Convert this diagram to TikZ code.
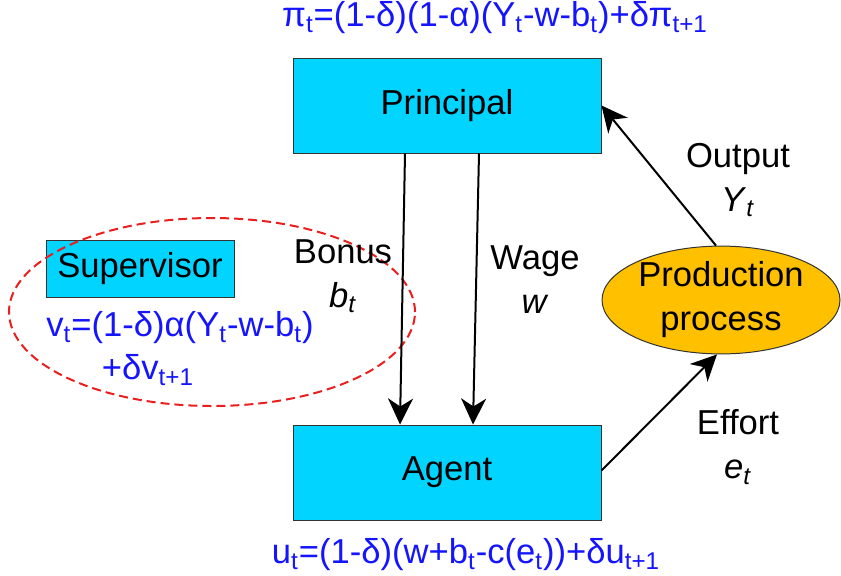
\documentclass[tikz,border=0pt]{standalone}
\usepackage{fontspec}
\setmainfont{Liberation Sans}
\usetikzlibrary{arrows.meta,shapes.geometric}
\definecolor{pacyan}{RGB}{0,212,255}
\definecolor{paorange}{RGB}{255,192,0}
\definecolor{pablue}{RGB}{20,20,255}
\definecolor{pared}{RGB}{235,30,30}
\newcommand{\ts}[1]{\textsubscript{#1}}
\newcommand{\ivar}[1]{\textit{#1}}

\begin{document}
\begin{tikzpicture}[x=0.5pt,y=-0.5pt,>={Stealth[length=13pt,width=12.5pt,inset=4pt]},
    font=\fontsize{17.3}{22}\selectfont,
    player/.style={draw=black!80,fill=pacyan,line width=.5pt,inner sep=0pt},
    payoff/.style={text=pablue,inner sep=0pt},
    flow/.style={->,line width=1pt},
    lbl/.style={align=center,inner sep=0pt}]
  \useasboundingbox (0,0) rectangle (841,575);
  % players
  \node[player,minimum width=154pt,minimum height=47.5pt] (principal) at (447,105.5) {Principal};
  \node[player,minimum width=154pt,minimum height=47.5pt] (agent) at (447,472.5) {Agent};
  \node[player,minimum width=94pt,minimum height=28.5pt] (supervisor) at (140,268.5) {Supervisor};
  \node[ellipse,draw=black!80,fill=paorange,line width=.5pt,inner sep=0pt,
        minimum width=119pt,minimum height=53pt,align=center] (prod) at (721,300) {Production\\process};
  % coalition
  \node[ellipse,draw=pared,dash pattern=on 4.5pt off 2.5pt,line width=1pt,
        minimum width=203pt,minimum height=94pt] (coal) at (212,312) {};
  % payoffs
  \node[payoff] (piP) at (495,18) {π\ts{t}=(1-δ)(1-α)(Y\ts{t}-w-b\ts{t})+δπ\ts{t+1}};
  \node[payoff] (piA) at (466,555) {u\ts{t}=(1-δ)(w+b\ts{t}-c(e\ts{t}))+δu\ts{t+1}};
  \node[payoff] (piS1) at (180,328) {v\ts{t}=(1-δ)α(Y\ts{t}-w-b\ts{t})};
  \node[payoff] (piS2) at (148,370) {+δv\ts{t+1}};
  % flows
  \draw[flow] ([xshift=-21pt]principal.south) -- ([xshift=-23.5pt]agent.north);
  \draw[flow] ([xshift=16pt]principal.south) -- ([xshift=13pt]agent.north);
  \draw[flow] ([xshift=-2.5pt]prod.north) -- ([yshift=0pt]principal.east);
  \draw[flow] ([yshift=1pt]agent.east) -- ([xshift=-2pt]prod.south);
  % labels
  \node[lbl] (lbonus) at (343,276) {Bonus\\\ivar{b}\ts{\ivar{t}}};
  \node[lbl] (lwage) at (535,280) {Wage\\\ivar{w}};
  \node[lbl] (lout) at (738,180) {Output\\\ivar{Y}\ts{\ivar{t}}};
  \node[lbl] (leff) at (738,447) {Effort\\\ivar{e}\ts{\ivar{t}}};
\end{tikzpicture}
\end{document}
